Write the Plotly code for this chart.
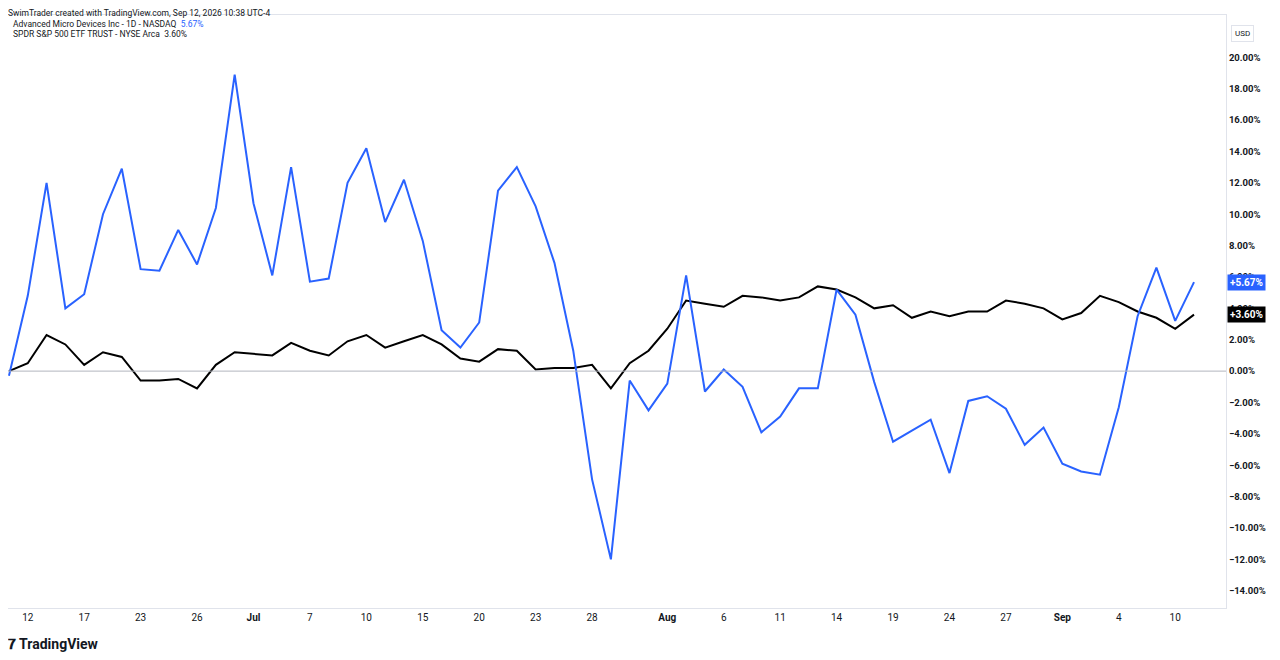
import plotly.graph_objects as go

dates = ["Jun 11","Jun 12","Jun 15","Jun 16","Jun 17","Jun 18","Jun 22","Jun 23","Jun 24","Jun 25","Jun 26","Jun 29","Jun 30",
 "Jul 1","Jul 2","Jul 6","Jul 7","Jul 8","Jul 9","Jul 10","Jul 13","Jul 14","Jul 15","Jul 16","Jul 17","Jul 20","Jul 21","Jul 22","Jul 23","Jul 24","Jul 27","Jul 28","Jul 29","Jul 30","Jul 31",
 "Aug 3","Aug 4","Aug 5","Aug 6","Aug 7","Aug 10","Aug 11","Aug 12","Aug 13","Aug 14","Aug 17","Aug 18","Aug 19","Aug 20","Aug 21","Aug 24","Aug 25","Aug 26","Aug 27","Aug 28","Aug 31",
 "Sep 1","Sep 2","Sep 3","Sep 4","Sep 8","Sep 9","Sep 10","Sep 11"]
amd = [-0.3,4.8,12.0,4.0,4.9,10.0,12.9,6.5,6.4,9.0,6.8,10.4,18.9,10.7,6.1,13.0,5.7,5.9,12.0,14.2,9.5,12.2,8.3,2.6,1.5,3.1,11.5,13.0,10.5,6.9,1.3,-6.9,-12.0,-0.6,-2.5,-0.8,6.1,-1.3,0.1,-1.0,-3.9,-2.9,-1.1,-1.1,5.2,3.6,-0.7,-4.5,-3.8,-3.1,-6.5,-1.9,-1.6,-2.4,-4.7,-3.6,-5.9,-6.4,-6.6,-2.3,3.5,6.6,3.2,5.67]
spy = [0.0,0.5,2.3,1.7,0.4,1.2,0.9,-0.6,-0.6,-0.5,-1.1,0.4,1.2,1.1,1.0,1.8,1.3,1.0,1.9,2.3,1.5,1.9,2.3,1.7,0.8,0.6,1.4,1.3,0.1,0.2,0.2,0.4,-1.1,0.5,1.3,2.7,4.5,4.3,4.1,4.8,4.7,4.5,4.7,5.4,5.2,4.7,4.0,4.2,3.4,3.8,3.5,3.8,3.8,4.5,4.3,4.0,3.3,3.7,4.8,4.4,3.8,3.4,2.7,3.6]
tick_dates = ["Jun 12","Jun 17","Jun 23","Jun 26","Jul 1","Jul 7","Jul 10","Jul 15","Jul 20","Jul 23","Jul 28","Aug 3","Aug 6","Aug 11","Aug 14","Aug 19","Aug 24","Aug 27","Sep 1","Sep 4","Sep 10"]
tick_labels = ["12","17","23","26","Jul","7","10","15","20","23","28","Aug","6","11","14","19","24","27","Sep","4","10"]
y_ticks = list(range(-14, 21, 2))

x = list(range(len(dates)))
tickvals = [dates.index(d) for d in tick_dates]

W, H, L, R, T, B = 1273, 652, 0, 55, 7, 52
OFF = 7

def px_x(px):
    return (px - OFF - L) / (W - L - R)

def px_y(py):
    return (H - (py - OFF) - B) / (H - T - B)

fig = go.Figure()
fig.add_trace(go.Scatter(x=x, y=spy, mode="lines", line=dict(color="#000000", width=2), showlegend=False))
fig.add_trace(go.Scatter(x=x, y=amd, mode="lines", line=dict(color="#2962ff", width=2), showlegend=False))
fig.add_hline(y=0, line=dict(color="#b2b5be", width=1))

bold_ticks = {"Jul", "Aug", "Sep"}
fig.update_layout(
    width=W, height=H, plot_bgcolor="white", paper_bgcolor="white",
    margin=dict(l=L, r=R, t=T, b=B, autoexpand=False),
    font=dict(family="Roboto, DejaVu Sans", size=10, color="#131722"),
    xaxis=dict(range=[-0.05, 64.7], tickvals=tickvals,
               ticktext=[f"<b>{t}</b>" if t in bold_ticks else t for t in tick_labels],
               showgrid=False, zeroline=False, ticks="", showline=True, linecolor="#e0e3eb", mirror=True,
               tickfont=dict(size=10)),
    yaxis=dict(side="right", range=[-15.1, 22.7], tickvals=y_ticks,
               ticktext=[f"<b>{v:.2f}%</b>".replace("-", "−") for v in y_ticks],
               showgrid=False, zeroline=False, ticks="", showline=True, linecolor="#e0e3eb", mirror=True,
               tickfont=dict(size=9.5)),
)
anns = [
    dict(x=5, y=12, text="SwimTrader created with TradingView.com, Sep 12, 2026 10:38 UTC-4", size=8.5),
    dict(x=10, y=23, text="Advanced Micro Devices Inc - 1D - NASDAQ  <span style='color:#2962ff'>5.67%</span>", size=8.5),
    dict(x=10, y=33, text="SPDR S&P 500 ETF TRUST - NYSE Arca  3.60%", size=8.5),
    dict(x=5, y=643, text="<b>𝟕 TradingView</b>", size=14),
]
for a in anns:
    fig.add_annotation(x=px_x(a["x"]), y=px_y(a["y"]), xref="paper", yref="paper",
                       text=a["text"], showarrow=False, xanchor="left", yanchor="middle",
                       font=dict(size=a["size"], color="#131722"))
fig.add_annotation(x=1.001, y=amd[-1], xref="paper", yref="y", text="<b>+5.67%</b>", showarrow=False,
                   xanchor="left", font=dict(color="white", size=10), bgcolor="#2962ff", borderpad=2)
fig.add_annotation(x=1.001, y=spy[-1], xref="paper", yref="y", text="<b>+3.60%</b>", showarrow=False,
                   xanchor="left", font=dict(color="white", size=10), bgcolor="#000000", borderpad=2)
fig.add_annotation(x=px_x(1230), y=px_y(24), xref="paper", yref="paper", text="USD", showarrow=False,
                   xanchor="left", font=dict(color="#131722", size=8), bordercolor="#e0e3eb", borderpad=3)
fig.write_html("out.html")
